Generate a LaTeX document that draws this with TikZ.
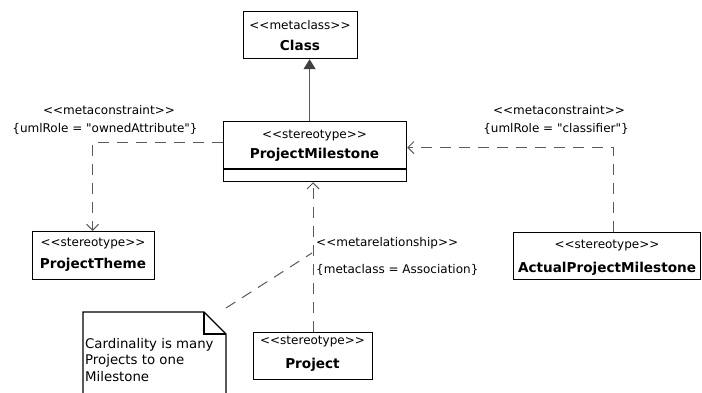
\documentclass[tikz,border=0pt]{standalone}
\usepackage{fontspec}
\newfontfamily\dv{DejaVu Sans}
\usetikzlibrary{arrows.meta}
\newcommand\stl{<\kern0pt<}
\newcommand\stg{>\kern0pt>}
\definecolor{lnk}{HTML}{5A5A5A}
\definecolor{inhc}{HTML}{404040}
\tikzset{
  box/.style={draw=black, line width=1.2pt, fill=white, inner sep=0pt, anchor=north west},
  reg/.style={font=\dv\fontsize{12}{14}\selectfont, inner sep=0pt},
  bld/.style={font=\dv\bfseries\fontsize{13.6}{16}\selectfont, inner sep=0pt},
  dep/.style={draw=lnk, line width=1pt, dash pattern=on 11pt off 8pt, -{Straight Barb[length=6pt,width=12pt,line width=1pt]}},
  notelink/.style={draw=lnk, line width=1pt, dash pattern=on 11pt off 8pt},
  inh/.style={draw=lnk, line width=1.2pt, -{Triangle[length=10pt,width=12pt,fill=inhc,color=inhc]}},
}
\begin{document}
\begin{tikzpicture}[x=1pt,y=-1pt]
\useasboundingbox[fill=white] (0,0) rectangle (702,393);
% boxes
\node[box, minimum width=114pt, minimum height=47pt] (class) at (243,11) {};
\node[box, minimum width=183pt, minimum height=60pt] (pm) at (223,121) {};
\draw[line width=1.2pt] (223,169) -- (406,169);
\node[box, minimum width=122pt, minimum height=48pt] (pt) at (32,231) {};
\node[box, minimum width=187pt, minimum height=47pt] (apm) at (513,232) {};
\node[box, minimum width=119pt, minimum height=47pt] (proj) at (253,332) {};
% note
\coordinate (note) at (226,312);
\draw[line width=1.2pt, fill=white] (83,396) -- (83,312) -- (204,312) -- (226,334) -- (226,396);
\draw[line width=1.2pt] (204,312) -- (204,334) -- (226,334);
% texts
\node[reg] at (300,25) {\stl metaclass\stg};
\node[bld] at (300,45) {Class};
\node[reg] at (314.5,136) {\stl stereotype\stg};
\node[bld] at (314.5,155) {ProjectMilestone};
\node[reg] at (93,244) {\stl stereotype\stg};
\node[bld] at (93,265) {ProjectTheme};
\node[reg] at (607,246) {\stl stereotype\stg};
\node[bld] at (607,269) {ActualProjectMilestone};
\node[reg] at (312.5,342) {\stl stereotype\stg};
\node[bld] at (312.5,365) {Project};
\node[reg] at (109,110) {\stl metaconstraint\stg};
\node[reg] at (105,129) {\{umlRole = "ownedAttribute"\}};
\node[reg] at (559,110) {\stl metaconstraint\stg};
\node[reg] at (556,129) {\{umlRole = "classifier"\}};
\node[reg, anchor=west] at (316,243) {\stl metarelationship\stg};
\node[reg, anchor=west] at (316,270) {\{metaclass = Association\}};
\node[reg, anchor=north west, align=left, font=\dv\fontsize{13.3}{16.5}\selectfont] at (85,338) {Cardinality is many\\Projects to one\\Milestone};
% connectors
\draw[inh] ([xshift=-5.5pt]pm.north) -- ([xshift=-5.5pt]pm.north |- class.south);
\draw[dep] ([yshift=9pt]pm.west) -| ([xshift=-1pt]pt.north);
\draw[dep] ([xshift=6pt]apm.north) |- ([yshift=4pt]pm.east);
\draw[dep] (proj.north) -- (proj.north |- pm.south);
\coordinate (j) at (312,253);
\draw[notelink] ([yshift=4pt]note) -- (j);
\end{tikzpicture}
\end{document}
